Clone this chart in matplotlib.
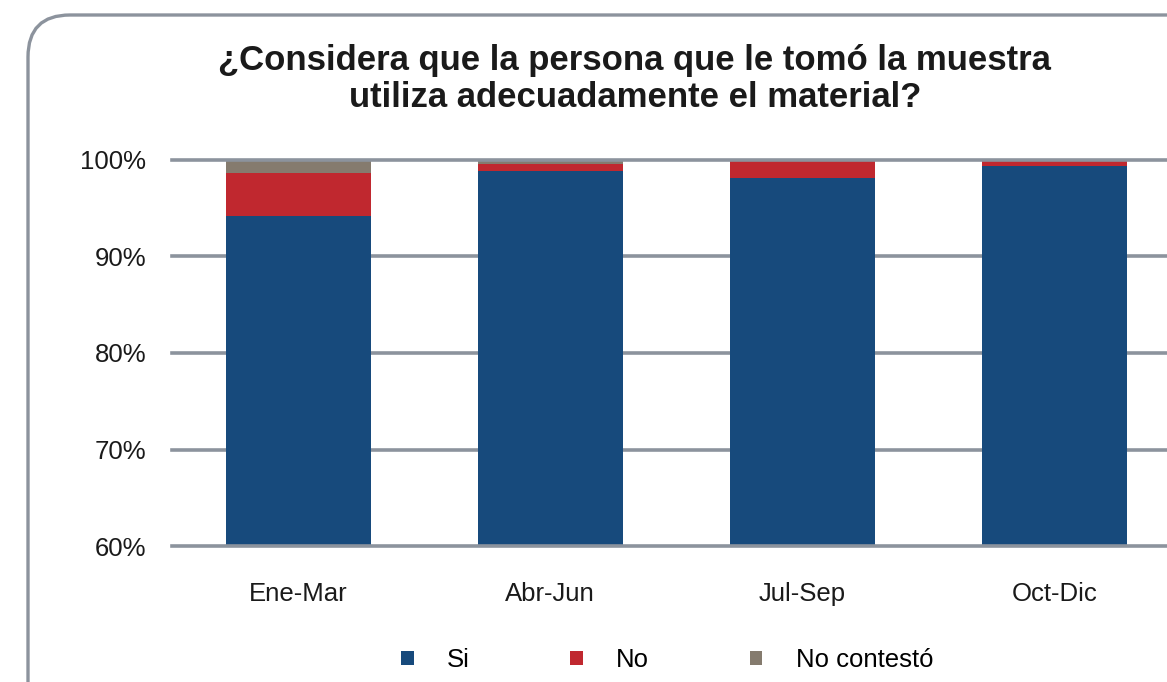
import numpy as np
import matplotlib.pyplot as plt
from matplotlib.patches import FancyBboxPatch
from matplotlib.transforms import IdentityTransform

plt.rcParams['font.family'] = ['Liberation Sans', 'DejaVu Sans']

trimestres = ["Ene-Mar", "Abr-Jun", "Jul-Sep", "Oct-Dic"]
si = [94.2, 98.8, 98.1, 99.3]
no = [4.4, 0.8, 1.9, 0.7]
no_contesto = [1.4, 0.4, 0.0, 0.0]
yticks = [60, 70, 80, 90, 100]

c_si, c_no, c_nc = "#174A7C", "#C0282F", "#857B6E"
grid_col = "#8C939D"

fig = plt.figure(figsize=(11.67, 6.82), dpi=100)
ax = fig.add_axes([172 / 1167, 1 - 546.3 / 682, 1 - 172 / 1167, (546.3 - 159.7) / 682])

x = np.arange(len(trimestres))
si_arr = np.array(si)
no_arr = np.array(no)
w = 0.575
ax.bar(x, si_arr, w, color=c_si, label="Si", zorder=3)
ax.bar(x, no_arr, w, bottom=si_arr, color=c_no, label="No", zorder=3)
ax.bar(x, no_contesto, w, bottom=si_arr + no_arr, color=c_nc, label="No contestó", zorder=3)

ax.set_ylim(60, 100)
ax.set_xlim(-0.5, 3.446)
ax.set_yticks(yticks)
ax.set_yticklabels([f"{v}%" for v in yticks])
ax.set_xticks(x)
ax.set_xticklabels(trimestres)
for s in ax.spines.values():
    s.set_visible(False)
ax.tick_params(length=0, labelsize=18.5, colors="#1a1a1a")
ax.tick_params(axis="y", pad=18.5)
ax.tick_params(axis="x", pad=26)
for v in yticks:
    ax.axhline(v, color=grid_col, lw=2.6, zorder=4 if v in (60, 100) else 2, clip_on=False)

fig.text(0.544, 0.935, "¿Considera que la persona que le tomó la muestra\nutiliza adecuadamente el material?",
         ha="center", va="top", fontsize=25, fontweight="bold", linespacing=1.15, color="#1a1a1a")

leg = fig.legend(loc="center", bbox_to_anchor=(0.5716, 0.032), ncol=3, frameon=False,
                 fontsize=18.5, handlelength=0.5, handleheight=0.5, columnspacing=3.9, handletextpad=1.3)

box = FancyBboxPatch((28, -60), 1200, 727, boxstyle="round,pad=0,rounding_size=42",
                     transform=IdentityTransform(), fill=False, edgecolor=grid_col, lw=2.4)
fig.patches.append(box)

fig.savefig("out.png", dpi=100)
